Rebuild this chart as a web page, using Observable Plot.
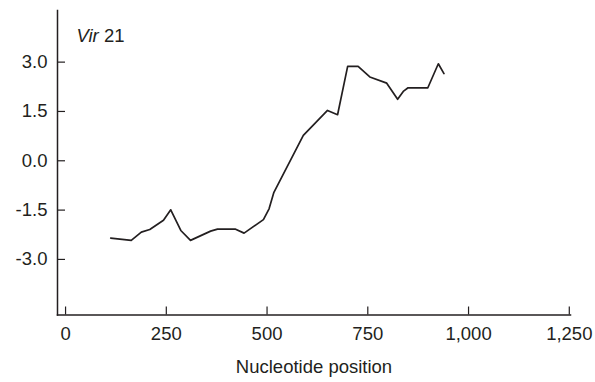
<!DOCTYPE html>
<html><head><meta charset="utf-8">
<script src="https://cdn.jsdelivr.net/npm/d3@7"></script>
<script src="https://cdn.jsdelivr.net/npm/@observablehq/plot@0.6"></script>
<style>body{margin:0;background:#fff} svg{display:block}</style>
</head><body><div id="chart"></div>
<script>
const positions = [112, 163, 188, 209, 243, 261, 286, 310, 360, 377, 422, 443, 491, 505, 517, 590, 650, 675, 700, 726, 755, 797, 824, 838, 850, 899, 925, 939];
const scores = [-2.35, -2.42, -2.17, -2.09, -1.81, -1.49, -2.12, -2.42, -2.14, -2.08, -2.08, -2.20, -1.79, -1.46, -0.96, 0.77, 1.53, 1.40, 2.87, 2.87, 2.55, 2.36, 1.87, 2.11, 2.22, 2.22, 2.95, 2.65];
const xTicks = [0, 250, 500, 750, 1000, 1250];
const yTicks = [-3, -1.5, 0, 1.5, 3];
const panelLabel = "Vir 21";
const xLabel = "Nucleotide position";

const data = positions.map((x, i) => ({x, y: scores[i]}));
const ink = "#231f20";

const chart = Plot.plot({
  width: 595, height: 382,
  marginLeft: 57, marginRight: 25, marginTop: 10, marginBottom: 67.5,
  style: {fontFamily: "'Liberation Sans', Arial, sans-serif", fontSize: "18.5px", color: ink, background: "#fff"},
  x: {domain: [-20, 1253]},
  y: {domain: [-4.69, 4.57]},
  marks: [
    Plot.axisX({ticks: xTicks, tickSize: -8, tickPadding: 20, tickFormat: d3.format(","), label: null, stroke: ink, strokeWidth: 1.2}),
    Plot.axisY({ticks: yTicks, tickSize: -8, tickPadding: 18, tickFormat: d => d.toFixed(1), label: null, stroke: ink, strokeWidth: 1.2}),
    Plot.frame({anchor: "left", stroke: ink, strokeWidth: 1.5}),
    Plot.frame({anchor: "bottom", stroke: ink, strokeWidth: 1.5}),
    Plot.line(data, {x: "x", y: "y", stroke: ink, strokeWidth: 1.7}),
    Plot.text([panelLabel], {text: d => d, frameAnchor: "top-left", dx: 19, dy: 18, lineAnchor: "top", textAnchor: "start", fill: ink, className: "panel-label"}),
    Plot.text([xLabel], {text: d => d, frameAnchor: "bottom", dy: 44.5, lineAnchor: "top", fill: ink})
  ]
});
document.getElementById("chart").appendChild(chart);
// italicize the genus part of the panel label
d3.select(chart).selectAll(".panel-label text").each(function() {
  const t = this.textContent;
  const parts = t.split(" ");
  const el = d3.select(this).text(null);
  el.append("tspan").attr("font-style", "italic").text(parts[0]);
  el.append("tspan").text(" " + parts.slice(1).join(" "));
});
</script>
</body></html>
